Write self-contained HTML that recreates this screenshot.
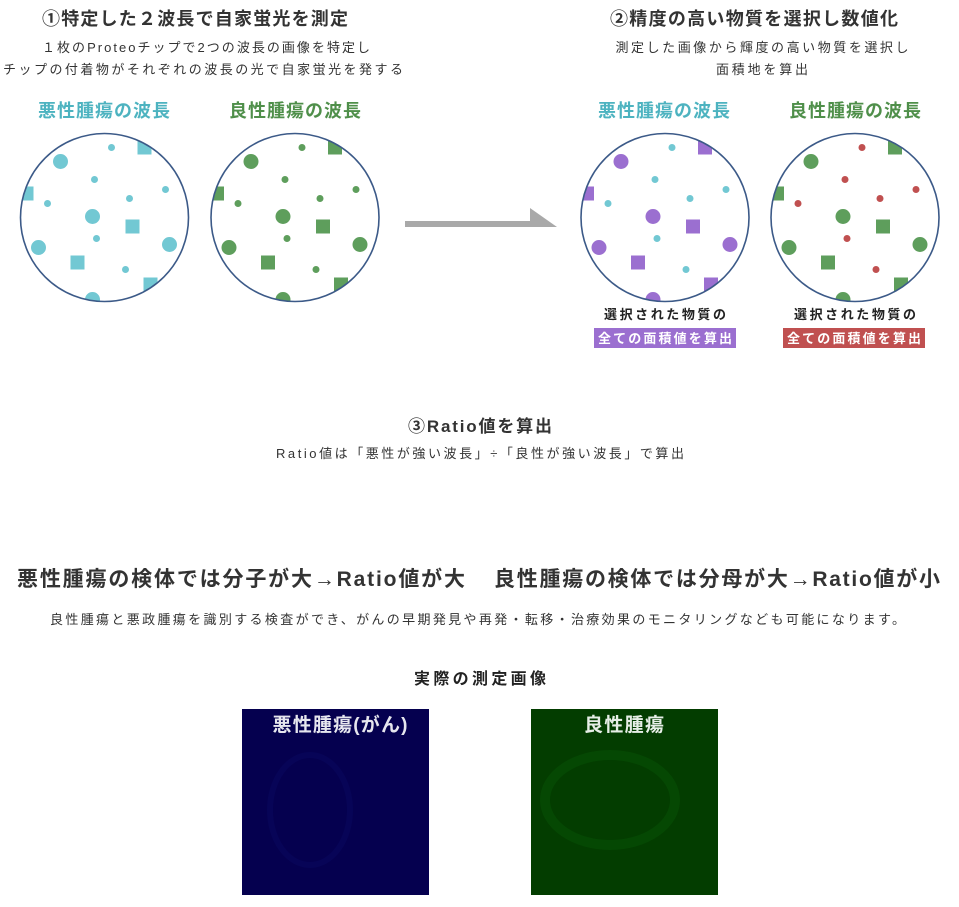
<!DOCTYPE html>
<html><head><meta charset="utf-8">
<style>
html,body{margin:0;padding:0;background:#fff;}
svg{display:block;}
text{font-family:"Liberation Sans","Noto Sans CJK JP",sans-serif;}
.b{font-weight:bold;}
</style></head><body>
<svg width="959" height="907" viewBox="0 0 959 907" xmlns="http://www.w3.org/2000/svg">
<defs>
<clipPath id="c1"><circle cx="104.5" cy="217.5" r="84"/></clipPath>
<clipPath id="c2"><circle cx="295" cy="217.5" r="84"/></clipPath>
<clipPath id="c3"><circle cx="665" cy="217.5" r="84"/></clipPath>
<clipPath id="c4"><circle cx="855" cy="217.5" r="84"/></clipPath>
<g id="sm"><circle cx="7" cy="-70" r="3.5"/><circle cx="-10" cy="-38" r="3.5"/><circle cx="61" cy="-28" r="3.5"/><circle cx="-57" cy="-14" r="3.5"/><circle cx="25" cy="-19" r="3.5"/><circle cx="-8" cy="21" r="3.5"/><circle cx="21" cy="52" r="3.5"/></g>
<g id="bg"><circle cx="-44" cy="-56" r="7.5"/><circle cx="-12" cy="-1" r="7.5"/><circle cx="-66" cy="30" r="7.5"/><circle cx="65" cy="27" r="7.5"/><circle cx="-12" cy="82" r="7.5"/>
<rect x="33" y="-77" width="14" height="14"/><rect x="-85" y="-31" width="14" height="14"/><rect x="21" y="2" width="14" height="14"/><rect x="-34" y="38" width="14" height="14"/><rect x="39" y="60" width="14" height="14"/></g>
</defs>

<text x="195" y="25" text-anchor="middle" class="b" font-size="18" fill="#333" textLength="306">①特定した２波長で自家蛍光を測定</text>
<text x="206" y="52" text-anchor="middle" font-size="13" fill="#333" textLength="328">１枚のProteoチップで2つの波長の画像を特定し</text>
<text x="203" y="74" text-anchor="middle" font-size="13" fill="#333" textLength="400">チップの付着物がそれぞれの波長の光で自家蛍光を発する</text>
<text x="104" y="117" text-anchor="middle" class="b" font-size="18" fill="#4db3c0" textLength="132">悪性腫瘍の波長</text>
<text x="295" y="117" text-anchor="middle" class="b" font-size="18" fill="#4f8f4a" textLength="132">良性腫瘍の波長</text>

<text x="754" y="25" text-anchor="middle" class="b" font-size="18" fill="#333" textLength="288">②精度の高い物質を選択し数値化</text>
<text x="762" y="52" text-anchor="middle" font-size="13" fill="#333" textLength="293">測定した画像から輝度の高い物質を選択し</text>
<text x="762" y="74" text-anchor="middle" font-size="13" fill="#333" textLength="92">面積地を算出</text>
<text x="664" y="117" text-anchor="middle" class="b" font-size="18" fill="#4db3c0" textLength="132">悪性腫瘍の波長</text>
<text x="855" y="117" text-anchor="middle" class="b" font-size="18" fill="#4f8f4a" textLength="132">良性腫瘍の波長</text>

<g clip-path="url(#c1)"><g transform="translate(104.5,217.5)"><use href="#sm" fill="#72c8d3"/><use href="#bg" fill="#72c8d3"/></g></g>
<circle cx="104.5" cy="217.5" r="84" fill="none" stroke="#3c5a88" stroke-width="1.6"/>
<g clip-path="url(#c2)"><g transform="translate(295,217.5)"><use href="#sm" fill="#5e9e5c"/><use href="#bg" fill="#5e9e5c"/></g></g>
<circle cx="295" cy="217.5" r="84" fill="none" stroke="#3c5a88" stroke-width="1.6"/>
<g clip-path="url(#c3)"><g transform="translate(665,217.5)"><use href="#sm" fill="#72c8d3"/><use href="#bg" fill="#9b6fd0"/></g></g>
<circle cx="665" cy="217.5" r="84" fill="none" stroke="#3c5a88" stroke-width="1.6"/>
<g clip-path="url(#c4)"><g transform="translate(855,217.5)"><use href="#sm" fill="#c05050"/><use href="#bg" fill="#5e9e5c"/></g></g>
<circle cx="855" cy="217.5" r="84" fill="none" stroke="#3c5a88" stroke-width="1.6"/>

<polygon points="405,221 530,221 530,208 557,227 405,227" fill="#a9a9a9"/>

<text x="665" y="319" text-anchor="middle" class="b" font-size="13" fill="#222" textLength="122">選択された物質の</text>
<rect x="594" y="328" width="142" height="20" fill="#9b6fd0"/>
<text x="665" y="343" text-anchor="middle" class="b" font-size="13" fill="#fff" textLength="134">全ての面積値を算出</text>
<text x="855" y="319" text-anchor="middle" class="b" font-size="13" fill="#222" textLength="122">選択された物質の</text>
<rect x="783" y="328" width="142" height="20" fill="#c05050"/>
<text x="854" y="343" text-anchor="middle" class="b" font-size="13" fill="#fff" textLength="134">全ての面積値を算出</text>

<text x="480" y="432" text-anchor="middle" class="b" font-size="17" fill="#333" textLength="144">③Ratio値を算出</text>
<text x="480" y="458" text-anchor="middle" font-size="13" fill="#333" textLength="408">Ratio値は「悪性が強い波長」÷「良性が強い波長」で算出</text>

<text x="17" y="586" class="b" font-size="21" fill="#333" textLength="448">悪性腫瘍の検体では分子が大→Ratio値が大</text>
<text x="494" y="586" class="b" font-size="21" fill="#333" textLength="446">良性腫瘍の検体では分母が大→Ratio値が小</text>
<text x="50" y="624" font-size="13" fill="#333" textLength="855">良性腫瘍と悪政腫瘍を識別する検査ができ、がんの早期発見や再発・転移・治療効果のモニタリングなども可能になります。</text>

<text x="480" y="684" text-anchor="middle" class="b" font-size="16" fill="#222" textLength="132">実際の測定画像</text>

<rect x="242" y="709" width="187" height="186" fill="#05004f"/>
<ellipse cx="310" cy="810" rx="40" ry="55" fill="none" stroke="#0a0860" stroke-width="6" opacity="0.5"/>
<text x="340" y="731" text-anchor="middle" class="b" font-size="19" fill="#e6e6ee" textLength="135">悪性腫瘍(がん)</text>
<rect x="531" y="709" width="187" height="186" fill="#033d00"/>
<ellipse cx="610" cy="800" rx="65" ry="45" fill="none" stroke="#0a5a08" stroke-width="10" opacity="0.4"/>
<text x="624" y="731" text-anchor="middle" class="b" font-size="19" fill="#e6eee6" textLength="80">良性腫瘍</text>
</svg>
</body></html>
